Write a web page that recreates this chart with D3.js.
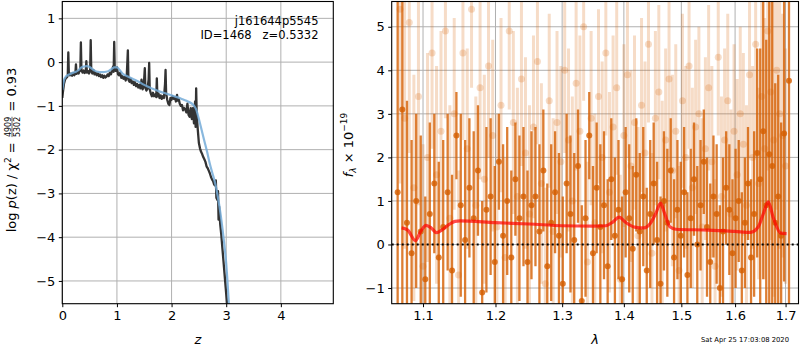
<!doctype html>
<html>
<head>
<meta charset="utf-8">
<title>redshift fit</title>
<script src="https://cdn.jsdelivr.net/npm/d3@7"></script>
<style>
  html, body { margin: 0; padding: 0; background: #fff; }
  svg { display: block; font-family: "DejaVu Sans", sans-serif; }
</style>
</head>
<body>
<div id="chart"></div>
<script>
// ---- left panel: log p(z) ----
var pzZ = [0.00,0.01,0.03,0.05,0.07,0.09,0.10,0.11,0.12,0.14,0.16,0.18,0.20,0.22,0.24,0.25,0.26,0.28,0.30,0.32,
  0.33,0.34,0.35,0.37,0.39,0.41,0.43,0.44,0.45,0.47,0.49,0.51,0.52,0.53,0.55,0.57,0.59,0.61,0.63,0.65,
  0.67,0.69,0.71,0.73,0.75,0.77,0.79,0.81,0.83,0.85,0.87,0.89,0.91,0.93,0.94,0.95,0.96,0.98,1.00,1.02,
  1.04,1.06,1.08,1.10,1.12,1.14,1.16,1.18,1.20,1.21,1.23,1.25,1.27,1.29,1.31,1.33,1.35,1.37,1.39,1.41,
  1.43,1.45,1.47,1.49,1.51,1.52,1.54,1.56,1.58,1.59,1.60,1.62,1.64,1.66,1.68,1.70,1.72,1.73,1.74,1.76,
  1.78,1.80,1.82,1.84,1.86,1.88,1.89,1.90,1.92,1.94,1.96,1.98,2.00,2.02,2.04,2.06,2.08,2.10,2.11,2.13,
  2.15,2.17,2.19,2.21,2.23,2.25,2.27,2.29,2.31,2.33,2.35,2.37,2.39,2.41,2.43,2.44,2.45,2.46,2.48,2.50,
  2.52,2.54,2.56,2.58,2.60,2.62,2.64,2.66,2.68,2.70,2.72,2.74,2.76,2.78,2.80,2.81,2.82,2.84,2.85,2.86,
  2.87,2.89,2.91,2.93,2.95,2.97,2.99,3.01,3.03]
var pzLog = [-0.82,-0.70,-0.50,-0.40,-0.36,-0.34,-0.30,0.22,-0.28,-0.30,-0.26,-0.31,-0.25,-0.30,-0.24,-0.05,-0.27,-0.22,-0.26,-0.18,
  -0.20,0.45,-0.17,-0.24,-0.19,-0.25,-0.20,0.02,-0.24,-0.20,-0.26,-0.18,0.50,-0.20,-0.26,-0.18,-0.28,-0.24,-0.30,-0.26,
  -0.32,-0.28,-0.34,-0.30,-0.36,-0.31,-0.35,-0.33,-0.28,-0.32,-0.24,-0.28,-0.20,-0.10,-0.22,0.46,-0.15,-0.20,-0.12,-0.28,
  -0.30,-0.24,-0.36,-0.32,-0.38,-0.34,-0.42,-0.30,0.27,-0.40,-0.45,-0.38,-0.48,-0.44,-0.52,-0.46,-0.55,-0.50,-0.58,-0.52,
  -0.60,-0.40,-0.62,-0.56,-0.14,-0.58,-0.65,-0.60,-0.40,-0.02,-0.62,-0.72,-0.78,-0.70,-0.78,-0.74,-0.80,-0.37,-0.78,-0.72,
  -0.82,-0.76,-0.84,-0.78,-0.82,-0.50,-0.18,-0.70,-0.86,-0.95,-0.98,-0.82,-0.86,-0.78,-0.84,-0.80,-0.90,-0.75,-0.88,-0.84,
  -0.95,-1.00,-0.98,-1.10,-1.05,-1.08,-1.15,-0.95,-1.20,-1.25,-1.05,-1.30,-1.05,-1.40,-0.90,-1.48,-0.60,-1.20,-1.55,-1.85,
  -1.97,-2.05,-2.10,-2.17,-2.22,-2.28,-2.38,-2.42,-2.48,-2.54,-2.62,-2.68,-2.72,-2.80,-2.82,-2.70,-3.10,-3.15,-2.95,-3.60,
  -3.30,-3.70,-3.95,-4.25,-4.55,-4.85,-5.15,-5.45,-5.75]

var smoothZ = [0.00,0.03,0.06,0.10,0.15,0.20,0.25,0.30,0.35,0.40,0.45,0.50,0.55,0.60,0.65,0.70,0.75,0.80,0.85,0.90,
  0.95,1.00,1.05,1.10,1.20,1.30,1.40,1.50,1.60,1.70,1.80,1.90,2.00,2.10,2.20,2.30,2.40,2.45,2.50,2.55,
  2.60,2.65,2.70,2.75,2.80,2.85,2.90,2.95,3.00,3.05]
var smoothLog = [-0.64,-0.42,-0.34,-0.30,-0.27,-0.24,-0.22,-0.18,-0.12,-0.10,-0.09,-0.11,-0.16,-0.20,-0.22,-0.23,-0.23,-0.22,-0.20,-0.16,
  -0.12,-0.12,-0.18,-0.26,-0.33,-0.39,-0.45,-0.52,-0.58,-0.63,-0.68,-0.72,-0.76,-0.80,-0.85,-0.90,-0.98,-1.08,-1.30,-1.55,
  -1.80,-2.05,-2.32,-2.55,-2.78,-3.10,-3.50,-4.00,-4.60,-5.55]

var zTicks = [0, 1, 2, 3, 4]
var pzTicks = [-5, -4, -3, -2, -1, 0, 1]

// ---- right panel: spectrum ----
var waveA = [1.067,1.073,1.079,1.085,1.091,1.097,1.103,1.109,1.115,1.121,
  1.127,1.133,1.139,1.145,1.151,1.157,1.163,1.169,1.175,1.181,
  1.187,1.193,1.199,1.205,1.211,1.217,1.223,1.229,1.235,1.241,
  1.247,1.253,1.259,1.265,1.271,1.277,1.283,1.289,1.295,1.301,
  1.307,1.313,1.319,1.325,1.331,1.337,1.343,1.349,1.355,1.361,
  1.367,1.373,1.379,1.385,1.391,1.397,1.403,1.409,1.415,1.421,
  1.427,1.433,1.439,1.445,1.451,1.457,1.463,1.469,1.475,1.481,
  1.487,1.493,1.499,1.505,1.511,1.517,1.523,1.529,1.535,1.541,
  1.547,1.553,1.559,1.565,1.571,1.577,1.583,1.589,1.595,1.601,
  1.607,1.613,1.619,1.625,1.631,1.637,1.643,1.649,1.655,1.661,
  1.667,1.673,1.679,1.685,1.691,1.697,1.707]
var fluxA = [1.2,3.1,0.5,-0.2,1.0,0.3,-0.8,0.7,1.4,-0.3,
  0.4,1.2,-0.6,2.5,0.9,0.1,1.3,0.6,1.7,-1.1,
  0.8,1.1,-0.4,1.9,0.2,1.0,-0.3,1.5,0.6,1.1,
  -0.4,0.9,1.1,0.3,1.7,-0.5,0.5,1.2,0.2,-0.9,
  1.4,0.7,0.1,1.8,-1.3,0.6,2.5,-0.2,1.3,0.4,
  0.9,-0.5,1.5,0.2,0.8,-0.8,1.2,0.6,-0.1,1.6,
  0.3,1.1,-0.6,0.7,1.4,0.1,-0.9,1.0,0.5,1.7,
  -0.3,0.8,0.2,1.2,-0.7,0.6,1.5,0.0,0.9,1.9,
  0.4,-0.4,1.1,0.7,-1.0,0.3,1.3,0.8,-0.2,0.6,
  1.0,-0.6,0.5,1.4,-0.3,0.7,2.1,1.5,2.6,0.9,
  2.07,1.8,0.5,1.1,0.2,2.55,3.76]
var errA = [5.5,4.5,2.8,2.6,2.0,2.2,1.9,2.1,1.6,2.2,
  2.0,1.8,2.2,1.0,2.1,2.3,1.6,2.0,1.5,2.1,
  1.9,1.8,2.2,1.1,2.1,1.7,2.0,1.3,1.9,1.6,
  2.1,1.7,1.6,2.0,1.4,1.9,1.8,1.4,1.9,2.0,
  1.6,1.8,2.0,1.3,2.2,1.8,1.0,2.0,1.5,1.9,
  1.7,2.0,1.4,1.8,1.6,1.9,1.5,1.7,1.9,1.3,
  1.8,1.6,1.9,1.7,1.4,1.8,2.0,1.6,1.7,1.2,
  1.8,1.6,1.7,1.5,1.9,1.6,1.3,1.8,1.5,1.2,
  1.6,1.8,1.4,1.6,1.9,1.7,1.3,1.5,1.7,1.6,
  1.4,1.8,1.5,1.3,1.8,1.9,2.4,3.0,3.4,3.8,
  3.6,3.8,3.2,2.8,2.6,3.4,6.0]

var waveB = [1.070,1.076,1.082,1.088,1.094,1.100,1.106,1.112,1.118,1.124,
  1.130,1.136,1.142,1.148,1.154,1.160,1.166,1.172,1.178,1.184,
  1.190,1.196,1.202,1.208,1.214,1.220,1.226,1.232,1.238,1.244,
  1.250,1.256,1.262,1.268,1.274,1.280,1.286,1.292,1.298,1.304,
  1.310,1.316,1.322,1.328,1.334,1.340,1.346,1.352,1.358,1.364,
  1.370,1.376,1.382,1.388,1.394,1.400,1.406,1.412,1.418,1.424,
  1.430,1.436,1.442,1.448,1.454,1.460,1.466,1.472,1.478,1.484,
  1.490,1.496,1.502,1.508,1.514,1.520,1.526,1.532,1.538,1.544,
  1.550,1.556,1.562,1.568,1.574,1.580,1.586,1.592,1.598,1.604,
  1.610,1.616,1.622,1.628,1.634,1.640,1.646,1.652,1.658,1.664,
  1.670,1.676,1.682,1.688,1.694,1.700]
var fluxB = [5.4,2.9,5.1,1.3,3.4,-0.5,2.0,4.4,1.6,2.6,
  4.9,0.6,3.0,-0.7,4.4,2.2,5.4,0.9,3.6,1.5,
  4.1,2.5,0.4,3.2,-0.3,4.9,2.8,1.1,3.8,2.1,
  0.7,2.7,4.2,1.4,-0.9,3.3,0.3,2.8,1.9,4.0,
  2.4,1.0,3.7,2.6,5.0,-0.4,2.9,0.5,3.4,2.0,
  4.4,1.2,2.7,3.6,-0.8,2.5,3.9,1.8,2.8,0.2,
  3.2,2.1,4.6,-0.2,2.9,3.5,0.9,2.4,3.8,1.7,
  2.6,-0.6,3.3,2.0,4.1,1.3,2.7,3.0,0.4,2.2,
  3.6,1.9,-0.5,4.3,1.1,2.4,3.3,0.7,2.6,1.6,
  3.0,2.3,0.9,3.9,2.0,4.6,1.4,3.4,2.2,4.9,
  3.5,2.4,4.0,3.0,2.5,1.8]
var errB = [4.0,3.0,3.0,2.6,2.5,2.8,2.4,2.2,2.5,2.3,
  2.0,2.6,2.2,2.4,2.0,2.3,1.8,2.5,2.1,2.4,
  2.1,2.2,2.6,2.0,2.3,1.8,2.1,2.5,2.0,2.2,
  2.5,2.1,1.9,2.3,2.2,2.0,2.6,2.1,2.2,1.9,
  2.1,2.4,2.0,2.2,1.7,2.3,2.0,2.5,2.0,2.2,
  1.9,2.3,2.1,2.0,2.4,2.1,1.9,2.2,2.0,2.5,
  2.0,2.1,1.8,2.3,2.0,2.0,2.4,2.1,1.9,2.2,
  2.0,2.4,2.0,2.1,1.9,2.3,2.0,2.0,2.5,2.1,
  1.9,2.2,2.0,1.8,2.3,2.1,2.0,2.4,2.0,2.2,
  2.0,2.1,2.3,1.9,2.1,2.6,2.2,2.8,3.0,3.2,
  3.4,3.6,3.2,3.1,2.8,2.7]

var modelWave = [1.072,1.080,1.090,1.097,1.104,1.111,1.118,1.125,1.135,1.143,1.150,1.200,1.250,1.300,1.350,1.370,1.382,1.392,
  1.402,1.418,1.434,1.445,1.455,1.463,1.470,1.480,1.490,1.550,1.600,1.630,1.645,1.655,1.665,1.675,1.690,1.702]
var modelFlux = [0.38,0.33,0.09,0.30,0.44,0.38,0.27,0.33,0.46,0.53,0.54,0.50,0.47,0.43,0.42,0.43,0.52,0.63,
  0.52,0.40,0.38,0.48,0.72,0.95,0.72,0.40,0.35,0.33,0.30,0.28,0.40,0.70,0.98,0.62,0.26,0.25]

var waveTicks = [1.1, 1.2, 1.3, 1.4, 1.5, 1.6, 1.7]
var fluxTicks = [-1, 0, 1, 2, 3, 4, 5]

var ORANGE = "#D55E00"
var GRID = "#b0b0b0"
var FS = 13

var svg = d3.select("#chart").append("svg")
  .attr("width", 800).attr("height", 350)

// axis rectangles
var boxL = { x0: 62.3, x1: 333.3, y0: 1.5, y1: 303.7 }
var boxR = { x0: 391.7, x1: 798.5, y0: 1.5, y1: 303.7 }

var zx = d3.scaleLinear().domain([0, 4.96]).range([boxL.x0, boxL.x1])
var zy = d3.scaleLinear().domain([-5.52, 1.385]).range([boxL.y1, boxL.y0])
var lx = d3.scaleLog().domain([1.0594, 1.7266]).range([boxR.x0, boxR.x1])
var ly = d3.scaleLinear().domain([-1.36, 5.58]).range([boxR.y1, boxR.y0])

var defs = svg.append("defs")
function clip(id, b) {
  defs.append("clipPath").attr("id", id).append("rect")
    .attr("x", b.x0).attr("y", b.y0).attr("width", b.x1 - b.x0).attr("height", b.y1 - b.y0)
}
clip("clipL", boxL)
clip("clipR", boxR)

function grid(g, b, x, y, xt, yt) {
  g.selectAll("line.gx").data(xt).join("line").attr("class", "gx")
    .attr("x1", d => x(d)).attr("x2", d => x(d)).attr("y1", b.y0).attr("y2", b.y1)
    .attr("stroke", GRID).attr("stroke-width", 1)
  g.selectAll("line.gy").data(yt).join("line").attr("class", "gy")
    .attr("y1", d => y(d)).attr("y2", d => y(d)).attr("x1", b.x0).attr("x2", b.x1)
    .attr("stroke", GRID).attr("stroke-width", 1)
}

function axes(g, b, x, y, xt, yt, xfmt) {
  var ax = g.append("g").attr("transform", "translate(0," + b.y1 + ")")
    .call(d3.axisBottom(x).tickValues(xt).tickFormat(xfmt).tickSize(3.5).tickPadding(3.5))
  var ay = g.append("g").attr("transform", "translate(" + b.x0 + ",0)")
    .call(d3.axisLeft(y).tickValues(yt).tickFormat(d3.format("d")).tickSize(3.5).tickPadding(3.5))
  ;[ax, ay].forEach(function (a) {
    a.select(".domain").remove()
    a.selectAll("line").attr("stroke", "#000").attr("stroke-width", 1)
    a.selectAll("text").attr("fill", "#000")
      .style("font-family", "'DejaVu Sans', sans-serif").style("font-size", FS + "px")
  })
  g.append("rect").attr("x", b.x0).attr("y", b.y0)
    .attr("width", b.x1 - b.x0).attr("height", b.y1 - b.y0)
    .attr("fill", "none").attr("stroke", "#000").attr("stroke-width", 1.1)
}

// ---------- left panel ----------
var gL = svg.append("g")
grid(gL, boxL, zx, zy, zTicks, pzTicks)

var pzLine = d3.line().x(d => zx(d[0])).y(d => zy(d[1]))
var dL = gL.append("g").attr("clip-path", "url(#clipL)")
dL.append("path").datum(d3.zip(pzZ, pzLog)).attr("d", pzLine)
  .attr("fill", "none").attr("stroke", "#333")
  .attr("stroke-width", 2.3).attr("stroke-linejoin", "round")
dL.append("path").datum(d3.zip(smoothZ, smoothLog))
  .attr("d", pzLine.curve(d3.curveMonotoneX))
  .attr("fill", "none").attr("stroke", "#74acd8").attr("stroke-opacity", 0.85)
  .attr("stroke-width", 2.2)

axes(gL, boxL, zx, zy, zTicks, pzTicks, d3.format("d"))

gL.append("text").attr("x", 318.5).attr("y", 24.5).attr("text-anchor", "end")
  .style("font-size", "11.5px").text("j161644p5545")
gL.append("text").attr("x", 318.5).attr("y", 38.5).attr("text-anchor", "end")
  .style("font-size", "11.5px").style("white-space", "pre").text("ID=1468   z=0.5332")

gL.append("text").attr("x", (boxL.x0 + boxL.x1) / 2).attr("y", 343.5)
  .attr("text-anchor", "middle").style("font-size", FS + "px").style("font-style", "italic").text("z")

// rotated y label with a small fraction
var yl = gL.append("g").attr("transform", "translate(16,150) rotate(-90)")
var cx = 0
function piece(str, opt) {
  opt = opt || {}
  var t = yl.append("text").attr("x", cx).attr("y", opt.dy || 0)
    .style("font-size", (opt.fs || FS) + "px").style("white-space", "pre").text(str)
  if (opt.italic) t.style("font-style", "italic")
  cx += t.node().getComputedTextLength()
  return t
}
piece("log ")
piece("p", { italic: true })
piece("(z) / \u03c7")
piece("2", { fs: 9, dy: -5.5 })
piece(" = ")
var fx = cx + 1
var num = yl.append("text").attr("y", -5.5).style("font-size", "8px").text("4909")
var den = yl.append("text").attr("y", 3.5).style("font-size", "8px").text("5302")
var fw = Math.max(num.node().getComputedTextLength(), den.node().getComputedTextLength())
num.attr("x", fx); den.attr("x", fx)
yl.append("line").attr("x1", fx).attr("x2", fx + fw).attr("y1", -4).attr("y2", -4)
  .attr("stroke", "#000").attr("stroke-width", 0.6)
cx = fx + fw + 1
piece(" = 0.93")
yl.selectAll("*").attr("transform", "translate(" + (-cx / 2) + ",0)")

// ---------- right panel ----------
var gR = svg.append("g")
grid(gR, boxR, lx, ly, waveTicks, fluxTicks)

var dR = gR.append("g").attr("clip-path", "url(#clipR)")

function errbars(wave, flux, err, op, w, r) {
  var rows = d3.zip(wave, flux, err)
  var g = dR.append("g")
  g.selectAll("line").data(rows).join("line")
    .attr("x1", d => lx(d[0])).attr("x2", d => lx(d[0]))
    .attr("y1", d => ly(d[1] - d[2])).attr("y2", d => ly(d[1] + d[2]))
    .attr("stroke", ORANGE).attr("stroke-opacity", op).attr("stroke-width", w)
  g.selectAll("circle").data(rows).join("circle")
    .attr("cx", d => lx(d[0])).attr("cy", d => ly(d[1])).attr("r", r)
    .attr("fill", ORANGE).attr("fill-opacity", op)
}
errbars(waveB, fluxB, errB, 0.22, 3, 3.5)
errbars(waveA, fluxA, errA, 0.8, 2.3, 3)

var modelLine = d3.line().x(d => lx(d[0])).y(d => ly(d[1])).curve(d3.curveMonotoneX)
dR.append("path").datum(d3.zip(modelWave, modelFlux)).attr("d", modelLine)
  .attr("fill", "none").attr("stroke", "red").attr("stroke-opacity", 0.7)
  .attr("stroke-width", 3.2).attr("stroke-linejoin", "round")

dR.append("line").attr("x1", boxR.x0).attr("x2", boxR.x1)
  .attr("y1", ly(0)).attr("y2", ly(0))
  .attr("stroke", "#000").attr("stroke-width", 2).attr("stroke-dasharray", "2,3")

axes(gR, boxR, lx, ly, waveTicks, fluxTicks, d3.format(".1f"))

gR.append("text").attr("x", (boxR.x0 + boxR.x1) / 2).attr("y", 344)
  .attr("text-anchor", "middle").style("font-size", FS + "px").style("font-style", "italic")
  .text("\u03bb")

var fl = gR.append("text").attr("transform", "translate(353,145) rotate(-90)")
  .attr("text-anchor", "middle").style("font-size", FS + "px")
fl.append("tspan").style("font-style", "italic").text("f")
fl.append("tspan").style("font-style", "italic").style("font-size", "9px").attr("dy", 3).text("\u03bb")
fl.append("tspan").attr("dy", -3).text(" \u00d7 10")
fl.append("tspan").style("font-size", "9px").attr("dy", -6).text("\u221219")

svg.append("text").attr("x", 789).attr("y", 342).attr("text-anchor", "end")
  .style("font-size", "6.8px").text("Sat Apr 25 17:03:08 2020")
</script>
</body>
</html>
